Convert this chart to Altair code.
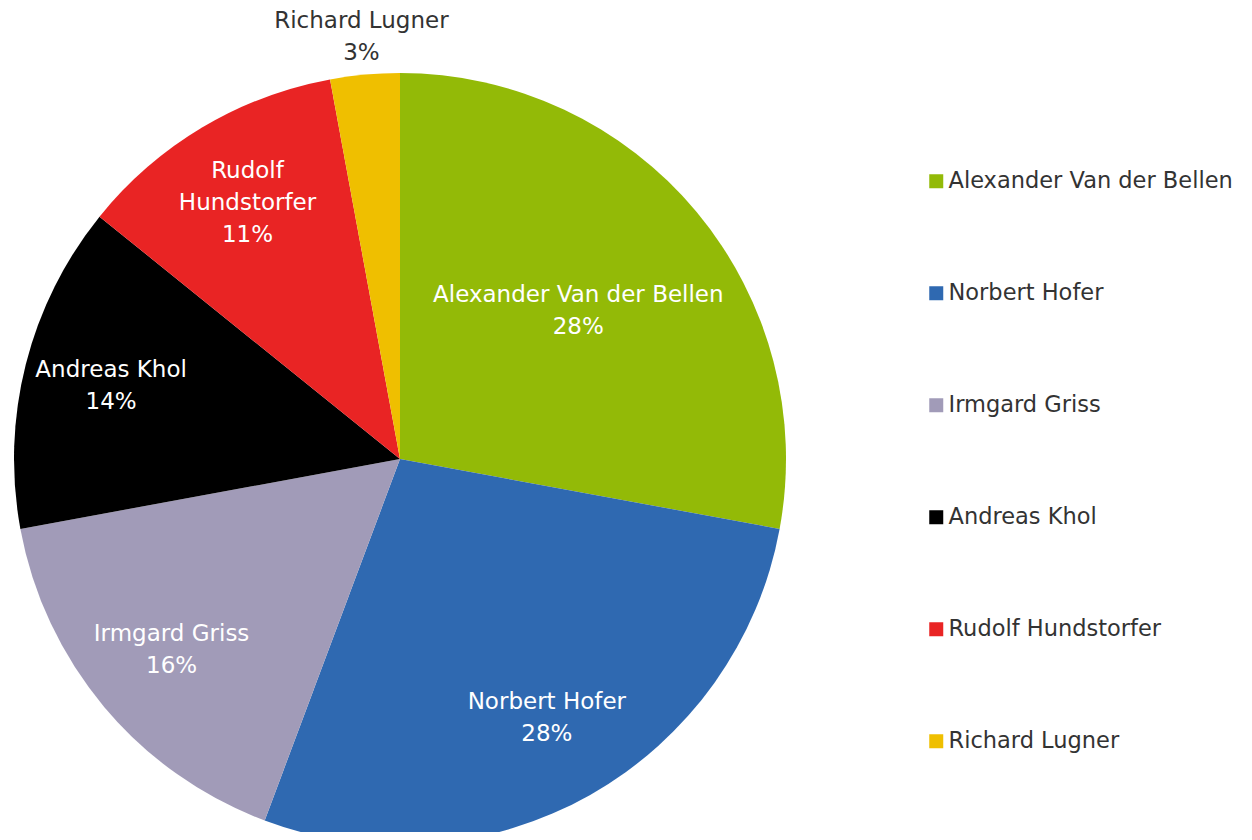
import altair as alt
import pandas as pd

candidates = ["Alexander Van der Bellen", "Norbert Hofer", "Irmgard Griss",
              "Andreas Khol", "Rudolf Hundstorfer", "Richard Lugner"]
shares = [27.9, 27.8, 16.4, 13.7, 11.3, 2.9]
pie_labels = ["Alexander Van der Bellen", "Norbert Hofer", "Irmgard Griss",
              "Andreas Khol", "Rudolf\nHundstorfer", "Richard Lugner"]
colors = ["#93BA07", "#2F69B1", "#A19BB8", "#000000", "#E92424", "#EFBF00"]

df = pd.DataFrame({"candidate": candidates, "share": shares,
                   "label": pie_labels, "order": list(range(len(candidates)))})

FONT = "DejaVu Sans"
CX, CY, R = 392, 451, 386
LINE_H = 32

color_scale = alt.Scale(domain=candidates, range=colors)

pie = alt.Chart(df).mark_arc(radius=R, stroke=None).encode(
    x=alt.value(CX), y=alt.value(CY),
    theta=alt.Theta("share:Q", stack=True),
    order=alt.Order("order:O"),
    color=alt.Color("candidate:N", scale=color_scale, sort=candidates,
                    legend=alt.Legend(title=None, orient="none", legendX=917, legendY=162,
                                      symbolType="square", symbolSize=196,
                                      symbolStrokeWidth=0,
                                      labelFont=FONT, labelFontSize=22.5, labelColor="#333333",
                                      labelLimit=400, rowPadding=89, labelOffset=1)),
)


def label_layer(n_lines):
    return alt.Chart(df).transform_calculate(
        pct="format(datum.share / 100, '.0%')",
        text="datum.label + '\\n' + datum.pct",
        nlines="length(split(datum.label, '\\n')) + 1",
        r="datum.share < 5 ? 424 : (length(datum.label) > 20 ? 232 : 298)",
    ).transform_stack(
        stack="share", groupby=[], as_=["s0", "s1"], sort=[alt.SortField("order")]
    ).transform_calculate(
        mid="(datum.s0 + datum.s1) / 2"
    ).transform_filter(f"datum.nlines == {n_lines}").mark_text(
        font=FONT, fontSize=23, lineBreak="\n",
        lineHeight=LINE_H, align="center", baseline="middle",
        dy=-(n_lines - 1) * LINE_H / 2
    ).encode(
        x=alt.value(CX), y=alt.value(CY),
        theta=alt.Theta("mid:Q", scale=alt.Scale(domain=[0, 100])),
        radius=alt.Radius("r:Q", scale=None),
        text="text:N",
        color=alt.condition("datum.share < 5", alt.value("#333333"), alt.value("white")),
    )


chart = alt.layer(pie, label_layer(2), label_layer(3)).resolve_scale(
    theta="independent"
).properties(
    width=1236, height=824, padding=0, autosize=alt.AutoSizeParams(type="none")
).configure_view(stroke=None)

chart.save("out.html", embed_options={"renderer": "svg", "actions": False})
